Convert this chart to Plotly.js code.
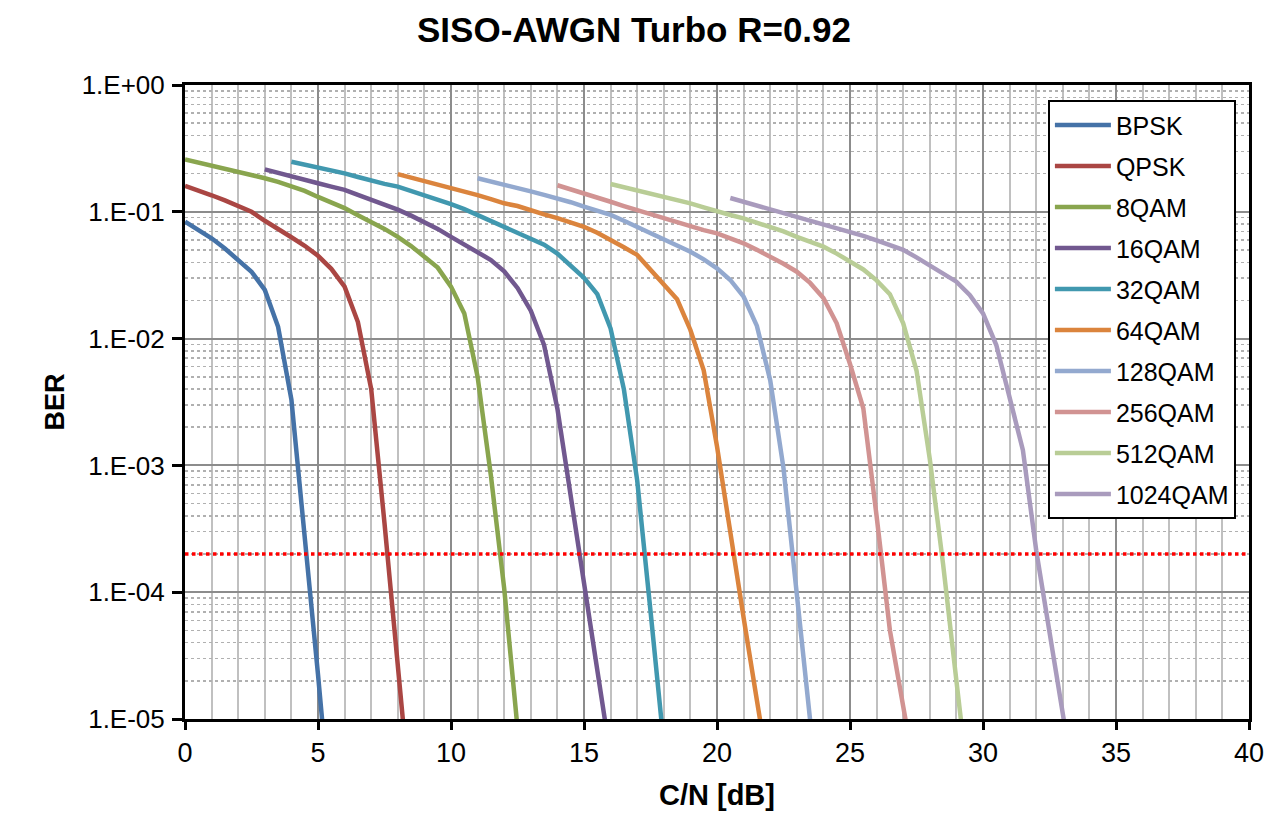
<!DOCTYPE html>
<html>
<head>
<meta charset="utf-8">
<script src="https://cdn.plot.ly/plotly-3.0.1.min.js"></script>
<style>html,body{margin:0;padding:0;background:#fff;}#chart{width:1268px;height:816px;}</style>
</head>
<body>
<div id="chart"></div>
<script>
// ---- Data ----
const seriesNames = ["BPSK","QPSK","8QAM","16QAM","32QAM","64QAM","128QAM","256QAM","512QAM","1024QAM"];
const seriesColors = ["#4572A7","#AA4643","#89A54E","#71588F","#4198AF","#DB843D","#93A9CF","#D19392","#B9CD96","#A99BBD"];

const bpskCN = [0,0.5,1,1.5,2,2.5,3,3.5,4,4.5,5,5.5];
const bpskBER = [0.0836,0.0724,0.0618,0.0513,0.0417,0.0337,0.0242,0.0124,0.00331,0.000282,2.24e-5,1.58e-6];

const qpskCN = [0,0.5,1,1.5,2,2.5,3,3.5,4,4.5,5,5.5,6,6.5,7,7.5,8,8.5];
const qpskBER = [0.160,0.148,0.135,0.123,0.112,0.100,0.085,0.074,0.063,0.054,0.045,0.0355,0.0257,0.0135,0.0040,3.5e-4,2.8e-5,2.0e-6];

const qam8CN = [0,0.5,1,1.5,2,2.5,3,3.5,4,4.5,5,5.5,6,6.5,7,7.5,8,8.5,9,9.5,10,10.5,11,11.5,12,12.5];
const qam8BER = [0.259,0.245,0.234,0.221,0.209,0.195,0.184,0.172,0.160,0.146,0.131,0.119,0.107,0.094,0.0836,0.0733,0.0635,0.0537,0.0443,0.0363,0.0257,0.0158,0.0050,8.3e-4,1.07e-4,8.5e-6];

const qam16CN = [3,3.5,4,4.5,5,5.5,6,6.5,7,7.5,8,8.5,9,9.5,10,10.5,11,11.5,12,12.5,13,13.5,14,14.5,15,15.5,16];
const qam16BER = [0.216,0.202,0.189,0.178,0.168,0.158,0.149,0.136,0.125,0.115,0.104,0.0933,0.0836,0.0733,0.0635,0.0556,0.0484,0.0417,0.0339,0.0251,0.0166,0.0089,0.0028,5.6e-4,1.12e-4,2.5e-5,5e-6];

const qam32CN = [4,4.5,5,5.5,6,6.5,7,7.5,8,8.5,9,9.5,10,10.5,11,11.5,12,12.5,13,13.5,14,14.5,15,15.5,16,16.5,17,17.5,18];
const qam32BER = [0.248,0.236,0.224,0.213,0.201,0.188,0.175,0.166,0.158,0.146,0.1355,0.126,0.115,0.105,0.0944,0.0841,0.0759,0.0692,0.0617,0.055,0.0468,0.038,0.0302,0.0224,0.012,0.00398,7.6e-4,7.1e-5,6.3e-6];

const qam64CN = [8,8.5,9,9.5,10,10.5,11,11.5,12,12.5,13,13.5,14,14.5,15,15.5,16,16.5,17,17.5,18,18.5,19,19.5,20,20.5,21,21.5,22];
const qam64BER = [0.198,0.186,0.175,0.165,0.156,0.1455,0.1355,0.126,0.1167,0.111,0.102,0.0955,0.0891,0.0822,0.0762,0.0684,0.0603,0.0525,0.0457,0.0347,0.0269,0.0204,0.0117,0.00562,0.00141,2.8e-4,6.3e-5,1.4e-5,3.2e-6];

const qam128CN = [11,11.5,12,12.5,13,13.5,14,14.5,15,15.5,16,16.5,17,17.5,18,18.5,19,19.5,20,20.5,21,21.5,22,22.5,23,23.5,24];
const qam128BER = [0.184,0.174,0.165,0.155,0.145,0.136,0.128,0.119,0.110,0.102,0.0944,0.0851,0.0762,0.0676,0.0603,0.0543,0.0484,0.0422,0.0358,0.029,0.0214,0.0126,0.0047,9.5e-4,1.0e-4,1.0e-5,1.0e-6];

const qam256CN = [14,14.5,15,15.5,16,16.5,17,17.5,18,18.5,19,19.5,20,20.5,21,21.5,22,22.5,23,23.5,24,24.5,25,25.5,26,26.5,27,27.5];
const qam256BER = [0.162,0.151,0.1406,0.130,0.120,0.111,0.103,0.0955,0.0891,0.0822,0.0762,0.0716,0.0676,0.0617,0.0564,0.0501,0.0443,0.0389,0.0337,0.0275,0.0209,0.0132,0.0063,0.00282,3.98e-4,5.0e-5,1.26e-5,3.2e-6];

const qam512CN = [16,16.5,17,17.5,18,18.5,19,19.5,20,20.5,21,21.5,22,22.5,23,23.5,24,24.5,25,25.5,26,26.5,27,27.5,28,28.5,29,29.5];
const qam512BER = [0.1656,0.1567,0.1486,0.1396,0.1315,0.1245,0.1167,0.1084,0.1002,0.0944,0.0887,0.0822,0.0762,0.070,0.0635,0.0582,0.0531,0.0468,0.0407,0.0351,0.0288,0.0224,0.0132,0.0056,0.00112,1.66e-4,2.0e-5,2.5e-6];

const qam1024CN = [20.5,21,21.5,22,22.5,23,23.5,24,24.5,25,25.5,26,26.5,27,27.5,28,28.5,29,29.5,30,30.5,31,31.5,32,32.5,33,33.5];
const qam1024BER = [0.1285,0.120,0.1138,0.106,0.099,0.0923,0.0867,0.0804,0.0746,0.0692,0.0646,0.0594,0.0547,0.0501,0.0437,0.038,0.0327,0.0281,0.0221,0.0158,0.0089,0.00347,0.00132,2.14e-4,4.5e-5,1.05e-5,2.5e-6];

const thresholdCN = [0,40];
const thresholdBER = [2e-4,2e-4];

const yTickVals = [1e-5,1e-4,1e-3,1e-2,1e-1,1];
const yTickText = ["1.E-05","1.E-04","1.E-03","1.E-02","1.E-01","1.E+00"];
const xTickVals = [0,5,10,15,20,25,30,35,40];

// ---- Build traces ----
const allCN = [bpskCN,qpskCN,qam8CN,qam16CN,qam32CN,qam64CN,qam128CN,qam256CN,qam512CN,qam1024CN];
const allBER = [bpskBER,qpskBER,qam8BER,qam16BER,qam32BER,qam64BER,qam128BER,qam256BER,qam512BER,qam1024BER];

const traces = seriesNames.map((n,i)=>({
  type:'scatter', mode:'lines', name:n, x:allCN[i], y:allBER[i],
  legendgroup:'g'+i,
  line:{color:seriesColors[i], width:4.5}
}));
traces.push({
  type:'scatter', mode:'lines', x:thresholdCN, y:thresholdBER, showlegend:false,
  line:{color:'#FF0000', width:3.5, dash:'dot'}
});

// minor log grid positions (2..9 within each decade)
const minorY = [];
for (let d=-5; d<0; d++) for (let k=2; k<=9; k++) minorY.push(k*Math.pow(10,d));

const FONT = 'Liberation Sans, Arial, sans-serif';

const layout = {
  width:1268, height:816,
  paper_bgcolor:'#fff', plot_bgcolor:'#fff',
  margin:{l:185, r:19, t:85, b:97},
  title:{text:'<b>SISO-AWGN Turbo R=0.92</b>', font:{family:FONT, size:35, color:'#000'}, x:0.5, xanchor:'center', y:0.963, yanchor:'middle'},
  showlegend:true,
  legend:{
    x:0.811, y:0.976, xanchor:'left', yanchor:'top',
    bgcolor:'#fff', bordercolor:'#000', borderwidth:2,
    font:{family:FONT, size:25, color:'#000'},
    tracegroupgap:5.5, itemwidth:56
  },
  xaxis:{
    range:[0,40], tickvals:xTickVals, ticktext:xTickVals.map(String),
    showline:true, linecolor:'#000', linewidth:3, mirror:true,
    ticks:'outside', ticklen:8, tickwidth:3, tickcolor:'#000',
    tickfont:{family:FONT, size:27, color:'#000'},
    showgrid:true, gridcolor:'#8c8c8c', gridwidth:2,
    minor:{dtick:1, showgrid:true, gridcolor:'#c0c0c0', gridwidth:2, ticks:''},
    zeroline:false,
    title:{text:'<b>C/N [dB]</b>', font:{family:FONT, size:29, color:'#000'}, standoff:18}
  },
  yaxis:{
    type:'log', range:[-5,0], tickvals:yTickVals, ticktext:yTickText,
    showline:true, linecolor:'#000', linewidth:3, mirror:true,
    ticks:'outside', ticklen:10, tickwidth:3, tickcolor:'#000',
    tickfont:{family:FONT, size:26, color:'#000'},
    ticklabelstandoff:2,
    showgrid:true, gridcolor:'#8c8c8c', gridwidth:2,
    minor:{tickvals:minorY, showgrid:true, gridcolor:'#b0b0b0', gridwidth:1.5, griddash:'dot', ticks:''},
    zeroline:false,
    title:{text:'<b>BER</b>', font:{family:FONT, size:27, color:'#000'}, standoff:10}
  }
};

Plotly.newPlot('chart', traces, layout, {staticPlot:true, displayModeBar:false});
</script>
</body>
</html>
